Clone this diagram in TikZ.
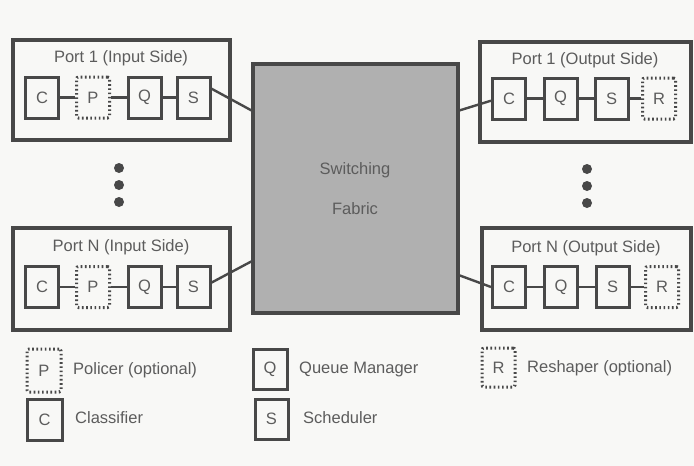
\documentclass[tikz,border=0pt]{standalone}
\usepackage{fontspec}
\setmainfont{Liberation Sans}
\usetikzlibrary{calc}
\definecolor{ink}{RGB}{72,72,72}
\definecolor{txt}{RGB}{92,92,92}
\definecolor{fabfill}{RGB}{176,176,176}
\definecolor{paper}{RGB}{248,248,246}
\tikzset{
  lbl/.style={text=txt, inner sep=0, font=\fontsize{16.5}{19}\selectfont},
  portbox/.style={draw=ink, line width=3.2pt, inner sep=0},
  unit/.style={draw=ink, line width=3pt, inner sep=0, minimum width=33, minimum height=41,
    text=txt, font=\fontsize{16.5}{19}\selectfont},
  optunit/.style={unit, dash pattern=on 1.6pt off 2.6pt, rounded corners=2pt},
  wire/.style={draw=ink, line width=2.4pt},
  dotmark/.style={circle, fill=ink, inner sep=0, minimum size=10},
}
\begin{document}
\begin{tikzpicture}[x=1pt,y=-1pt]
\useasboundingbox[fill=paper] (0,0) rectangle (694,466);

% switching fabric
\node[draw=ink, fill=fabfill, line width=3.2pt, inner sep=0, minimum width=205, minimum height=249] (fab) at (355.5,188.5) {};
\node[lbl] (fabt1) at (355,170) {Switching};
\node[lbl] (fabt2) at (355,209) {Fabric};

% input port 1
\node[portbox, minimum width=217, minimum height=100] (in1) at (121.5,90) {};
\node[lbl] (in1t) at (121,58) {Port 1 (Input Side)};
\node[unit]    (in1c) at (42,97.5)    {C};
\node[optunit] (in1p) at (93,97.5)    {P};
\node[unit]    (in1q) at (144.5,97.5) {Q};
\node[unit]    (in1s) at (193.5,97.5) {S};

% input port N
\node[portbox, minimum width=217, minimum height=102] (inN) at (121.5,279) {};
\node[lbl] (inNt) at (121,247) {Port N (Input Side)};
\node[unit]    (inNc) at (42,287)    {C};
\node[optunit] (inNp) at (93,287)    {P};
\node[unit]    (inNq) at (144.5,287) {Q};
\node[unit]    (inNs) at (193.5,287) {S};

% output port 1
\node[portbox, minimum width=211, minimum height=100] (out1) at (585.5,92) {};
\node[lbl] (out1t) at (585,60) {Port 1 (Output Side)};
\node[unit]    (out1c) at (509,98.5)   {C};
\node[unit]    (out1q) at (560.5,98.5) {Q};
\node[unit]    (out1s) at (611.5,98.5) {S};
\node[optunit] (out1r) at (659,98.5)   {R};

% output port N
\node[portbox, minimum width=209, minimum height=102] (outN) at (586.5,279) {};
\node[lbl] (outNt) at (586,248) {Port N (Output Side)};
\node[unit]    (outNc) at (509,287)   {C};
\node[unit]    (outNq) at (561,287)   {Q};
\node[unit]    (outNs) at (612.5,287) {S};
\node[optunit] (outNr) at (662,287)   {R};

% chains inside the ports
\draw[wire] (in1c) -- (in1p) -- (in1q) -- (in1s);
\draw[wire] (inNc) -- (inNp) -- (inNq) -- (inNs);
\draw[wire] (out1c) -- (out1q) -- (out1s) -- (out1r);
\draw[wire] (outNc) -- (outNq) -- (outNs) -- (outNr);

% links to the fabric
\coordinate (fa) at ($(fab.north west)+(0,48)$);
\coordinate (fb) at ($(fab.north west)+(0,199)$);
\coordinate (fc) at ($(fab.north east)+(0,48)$);
\coordinate (fd) at ($(fab.north east)+(0,213)$);
\draw[wire] ($(in1s.north east)!0.3!(in1s.south east)$) -- (fa);
\draw[wire] ($(inNs.north east)!0.4!(inNs.south east)$) -- (fb);
\draw[wire] (fc) -- ($(out1c.north west)!0.55!(out1c.south west)$);
\draw[wire] (fd) -- (outNc.west);

% ellipsis dots between ports
\node[dotmark] (ld1) at (119,168) {};
\node[dotmark] (ld2) at (119,185) {};
\node[dotmark] (ld3) at (119,202) {};
\node[dotmark] (rd1) at (587,169) {};
\node[dotmark] (rd2) at (587,186) {};
\node[dotmark] (rd3) at (587,203) {};

% legend
\node[optunit, minimum width=34, minimum height=43] (kp) at (44,370.5) {P};
\node[lbl, anchor=west] (kpt) at (73,370) {Policer (optional)};
\node[unit, minimum width=35] (kc) at (44.5,419.5) {C};
\node[lbl, anchor=west] (kct) at (75,418) {Classifier};
\node[unit, minimum width=34, minimum height=40] (kq) at (270,369) {Q};
\node[lbl, anchor=west] (kqt) at (299,369) {Queue Manager};
\node[unit, minimum width=33, minimum height=40] (ks) at (271.5,419) {S};
\node[lbl, anchor=west] (kst) at (303,418) {Scheduler};
\node[optunit, minimum width=33, minimum height=39] (kr) at (498.5,367.5) {R};
\node[lbl, anchor=west] (krt) at (527,368) {Reshaper (optional)};
\end{tikzpicture}
\end{document}
